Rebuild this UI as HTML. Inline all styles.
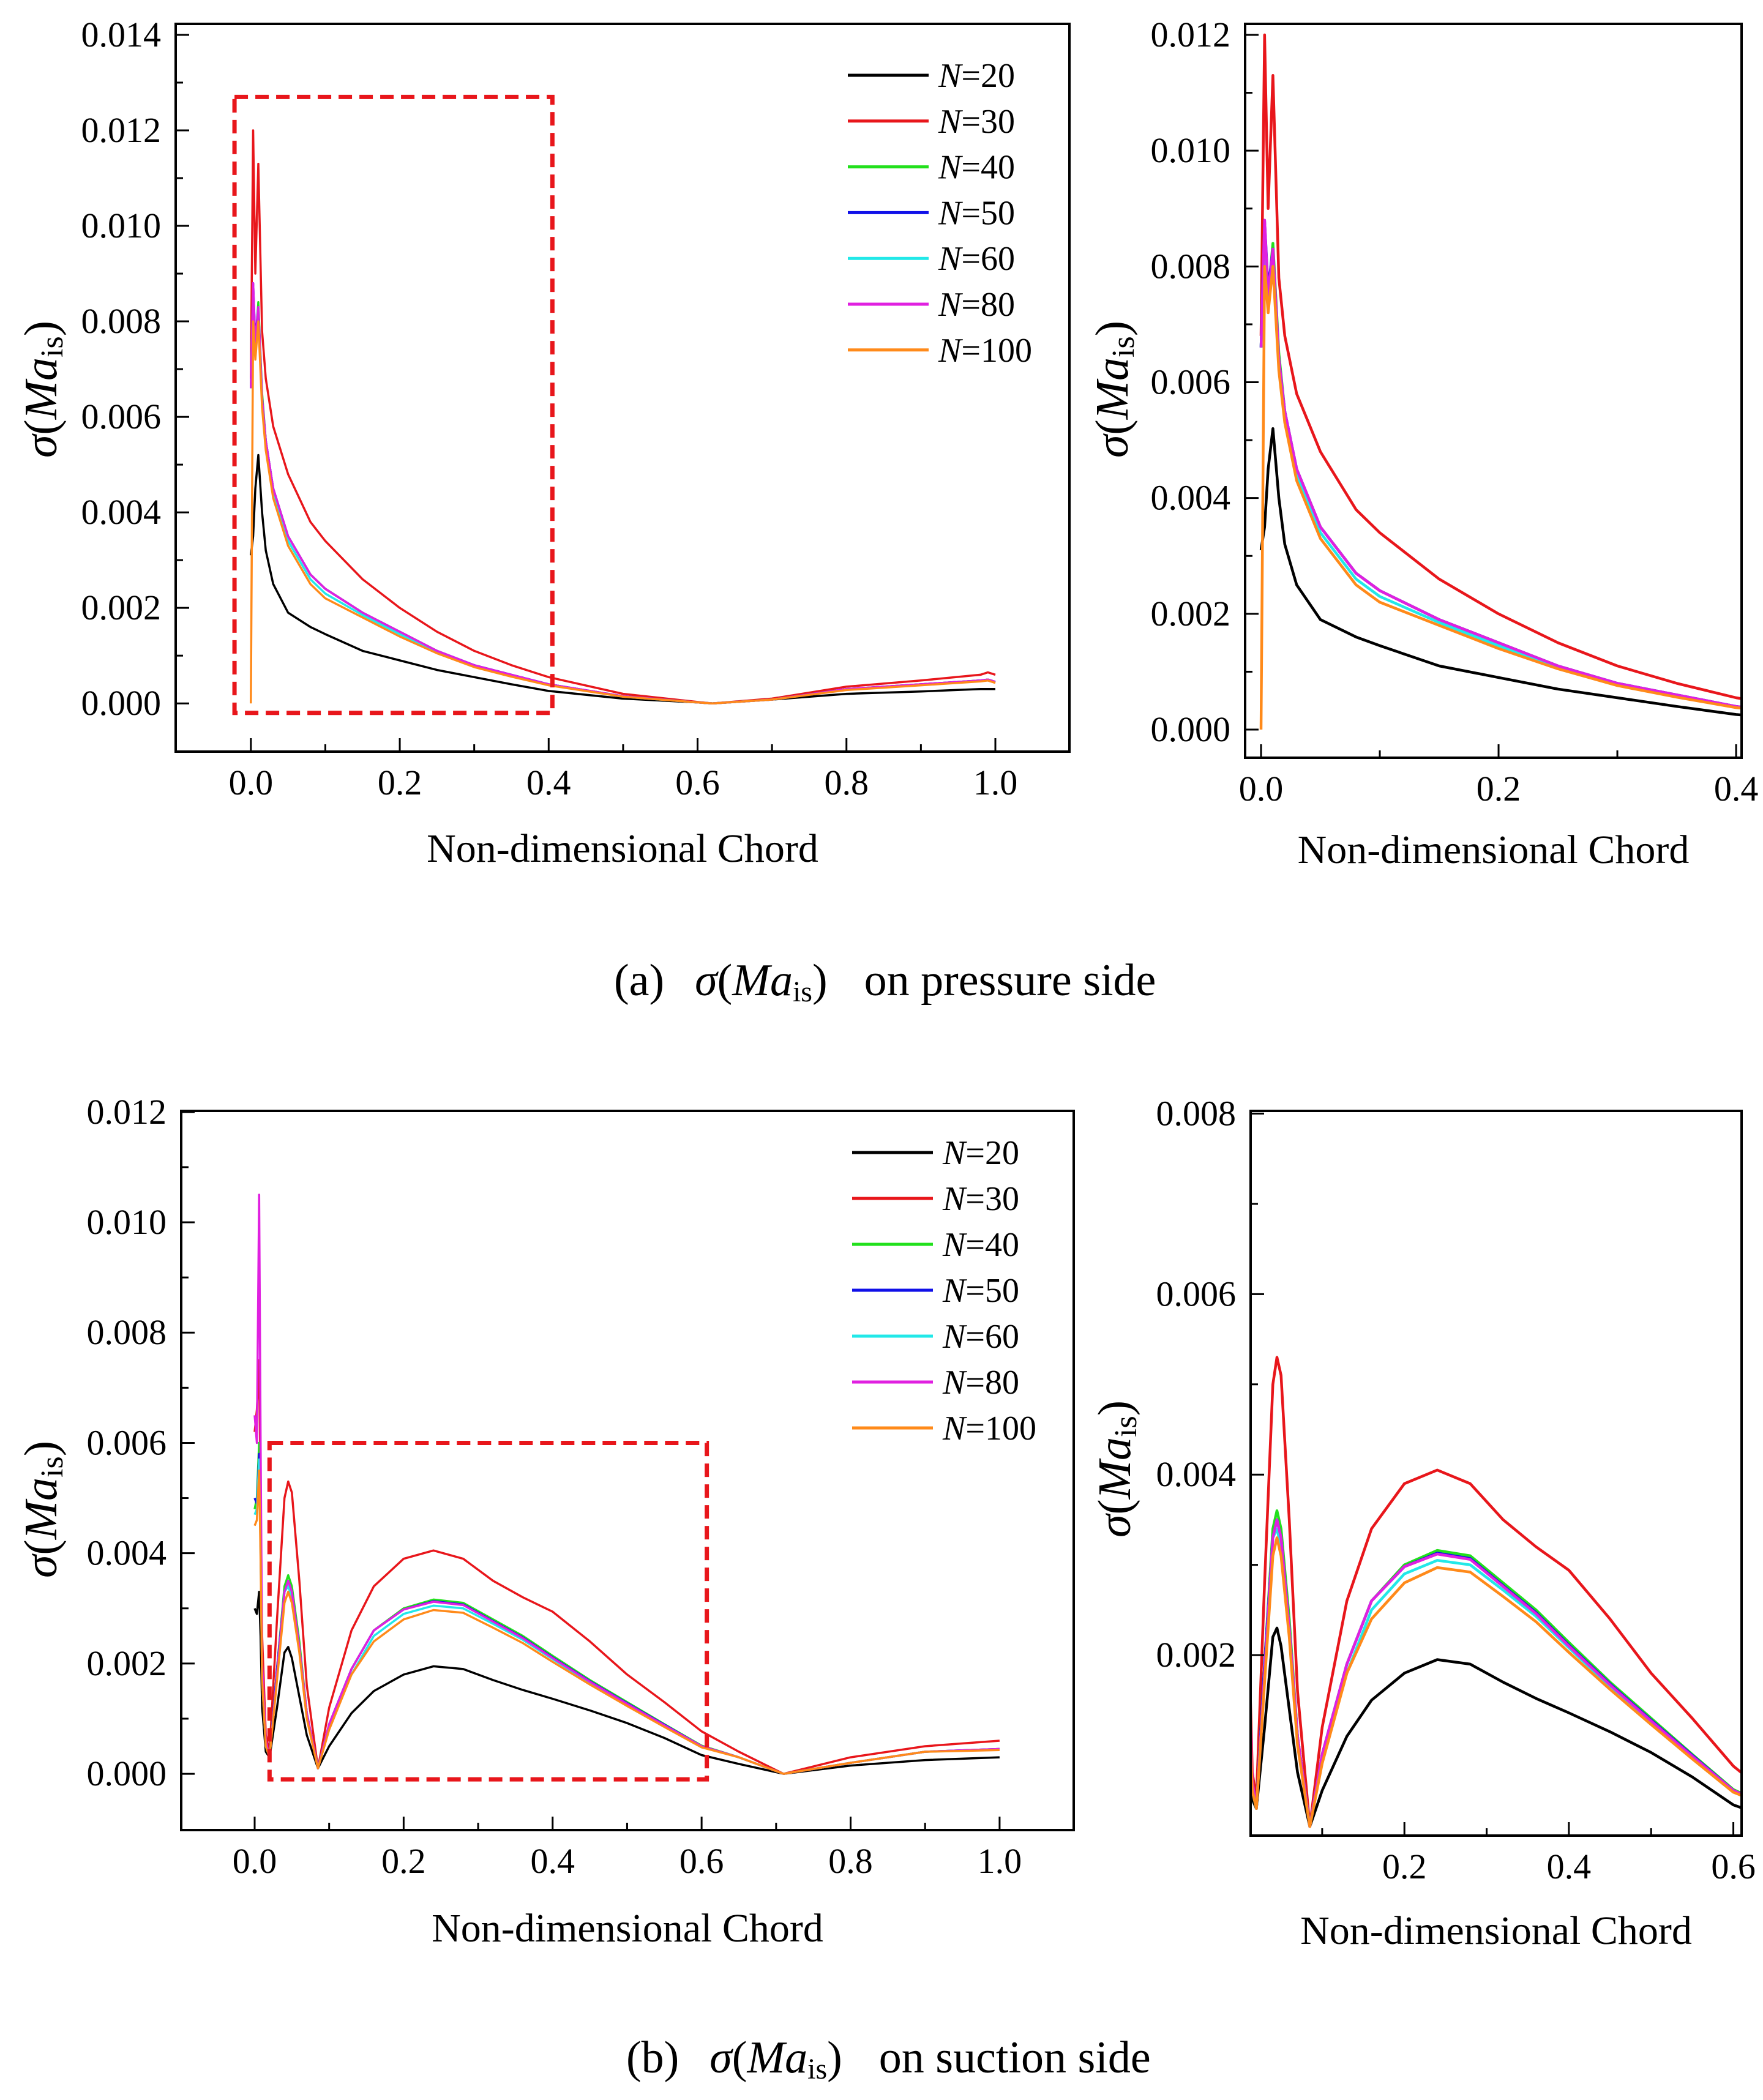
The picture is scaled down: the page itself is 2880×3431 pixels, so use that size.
<!DOCTYPE html>
<html><head><meta charset="utf-8">
<style>
html,body{margin:0;padding:0;background:#fff;}
svg{display:block;}
text{font-family:"Liberation Serif","DejaVu Serif",serif;fill:#000;}
</style></head>
<body>
<svg id="fig" width="2880" height="3431" viewBox="0 0 2880 3431" xmlns="http://www.w3.org/2000/svg">
<rect width="2880" height="3431" fill="#fff"/>
<text x="1003" y="1626" font-size="74">(a)<tspan dx="50" font-style="italic">σ</tspan>(<tspan font-style="italic">Ma</tspan><tspan font-size="48" dy="10">is</tspan><tspan dy="-10">)</tspan><tspan dx="60">on pressure side</tspan></text>
<text x="1023" y="3386" font-size="74">(b)<tspan dx="50" font-style="italic">σ</tspan>(<tspan font-style="italic">Ma</tspan><tspan font-size="48" dy="10">is</tspan><tspan dy="-10">)</tspan><tspan dx="60">on suction side</tspan></text>
</svg>
<script>
const seriesNames = ["N=20","N=30","N=40","N=50","N=60","N=80","N=100"];
const seriesColors = ["#000000","#e8161b","#22e01c","#1010e8","#22e8e8","#e020e0","#ff8a1a"];

// Pressure side
const pX = [0,0.003,0.006,0.01,0.015,0.02,0.03,0.05,0.08,0.1,0.15,0.2,0.25,0.3,0.35,0.4,0.5,0.6,0.62,0.7,0.8,0.9,0.98,0.99,1.0];
const pN20 = [0.0031,0.0035,0.0045,0.0052,0.0040,0.0032,0.0025,0.0019,0.0016,0.00145,0.0011,0.0009,0.0007,0.00055,0.0004,0.00026,0.0001,0.00002,0,0.00008,0.0002,0.00025,0.0003,0.0003,0.0003];
const pN30 = [0.0068,0.0120,0.0090,0.0113,0.0078,0.0068,0.0058,0.0048,0.0038,0.0034,0.0026,0.0020,0.0015,0.0011,0.0008,0.00055,0.0002,0.00003,0,0.0001,0.00035,0.00048,0.0006,0.00065,0.0006];
const pN40 = [0.0066,0.0085,0.0075,0.0084,0.0065,0.0055,0.0045,0.0035,0.0027,0.0024,0.0019,0.0015,0.0011,0.0008,0.0006,0.0004,0.00015,0.00002,0,0.00008,0.0003,0.0004,0.00048,0.0005,0.00045];
const pN50 = [0.0066,0.0088,0.0076,0.0083,0.0064,0.0055,0.0045,0.0035,0.0027,0.0024,0.0019,0.0015,0.0011,0.0008,0.0006,0.0004,0.00015,0.00002,0,0.00008,0.0003,0.0004,0.00048,0.0005,0.00045];
const pN60 = [0.0066,0.0086,0.0074,0.0082,0.0063,0.0054,0.0044,0.0034,0.0026,0.0023,0.00185,0.00145,0.00108,0.00078,0.00058,0.00039,0.00014,0.00002,0,0.00008,0.00029,0.00039,0.00047,0.00049,0.00044];
const pN80 = [0.0066,0.0088,0.0075,0.0083,0.0064,0.0055,0.0045,0.0035,0.0027,0.0024,0.0019,0.0015,0.0011,0.0008,0.0006,0.0004,0.00015,0.00002,0,0.00008,0.0003,0.0004,0.00048,0.0005,0.00045];
const pN100 = [0,0.0080,0.0072,0.0080,0.0062,0.0053,0.0043,0.0033,0.0025,0.0022,0.0018,0.0014,0.00105,0.00076,0.00056,0.00038,0.00014,0.00002,0,0.00008,0.00028,0.00038,0.00046,0.00048,0.00043];
const pSeries = [pN20,pN30,pN40,pN50,pN60,pN80,pN100];

// Suction side
const sX = [0,0.003,0.006,0.008,0.01,0.015,0.02,0.03,0.04,0.045,0.05,0.06,0.07,0.085,0.1,0.13,0.16,0.2,0.24,0.28,0.32,0.36,0.4,0.45,0.5,0.55,0.6,0.65,0.71,0.8,0.9,1.0];
const sN20 = [0.003,0.0029,0.0033,0.0025,0.0012,0.0004,0.0003,0.0012,0.0022,0.0023,0.0021,0.0014,0.0007,0.0001,0.0005,0.0011,0.0015,0.0018,0.00195,0.0019,0.0017,0.00152,0.00136,0.00115,0.00092,0.00065,0.00034,0.00018,0,0.00015,0.00025,0.0003];
const sN30 = [0.0062,0.0066,0.0075,0.0050,0.0025,0.0007,0.0004,0.0028,0.0050,0.0053,0.0051,0.0035,0.0016,0.0001,0.0012,0.0026,0.0034,0.0039,0.00405,0.0039,0.0035,0.0032,0.00294,0.0024,0.0018,0.0013,0.00077,0.0004,0,0.0003,0.0005,0.0006];
const sN40 = [0.0048,0.0050,0.0060,0.0042,0.0018,0.0005,0.0003,0.0019,0.0034,0.0036,0.0034,0.0024,0.0011,0.0001,0.0009,0.0019,0.0026,0.0030,0.00316,0.0031,0.0028,0.0025,0.00214,0.0017,0.0013,0.0009,0.00051,0.0003,0,0.0002,0.0004,0.00045];
const sN50 = [0.0050,0.0049,0.0058,0.0041,0.0018,0.0005,0.0003,0.0019,0.0033,0.0035,0.0033,0.0023,0.0011,0.0001,0.0009,0.0019,0.0026,0.00298,0.00313,0.00307,0.00277,0.00247,0.00211,0.00168,0.00128,0.00089,0.0005,0.0003,0,0.0002,0.0004,0.00045];
const sN60 = [0.0047,0.0048,0.0057,0.0040,0.0017,0.0005,0.0003,0.0018,0.0033,0.0034,0.0032,0.0023,0.0011,0.0001,0.0009,0.0018,0.0025,0.0029,0.00305,0.00300,0.00272,0.00243,0.00208,0.00165,0.00126,0.00087,0.00049,0.0003,0,0.0002,0.0004,0.00044];
const sN80 = [0.0065,0.0060,0.0105,0.0060,0.0020,0.0006,0.0003,0.0018,0.0033,0.0035,0.0033,0.0023,0.0011,0.0001,0.0009,0.0019,0.0026,0.00298,0.00312,0.00306,0.00276,0.00246,0.0021,0.00167,0.00127,0.00088,0.0005,0.0003,0,0.0002,0.0004,0.00045];
const sN100 = [0.0045,0.0046,0.0055,0.0039,0.0017,0.0005,0.0003,0.0017,0.0031,0.0033,0.0031,0.0022,0.0010,0.0001,0.0008,0.0018,0.0024,0.0028,0.00297,0.00292,0.00265,0.00237,0.00203,0.00162,0.00123,0.00085,0.00048,0.0003,0,0.0002,0.0004,0.00043];
const sSeries = [sN20,sN30,sN40,sN50,sN60,sN80,sN100];

const aLeftXTicks = [0,0.2,0.4,0.6,0.8,1.0];
const aLeftYTicks = [0,0.002,0.004,0.006,0.008,0.010,0.012,0.014];
const aRightXTicks = [0,0.2,0.4];
const aRightYTicks = [0,0.002,0.004,0.006,0.008,0.010,0.012];
const bLeftXTicks = [0,0.2,0.4,0.6,0.8,1.0];
const bLeftYTicks = [0,0.002,0.004,0.006,0.008,0.010,0.012];
const bRightXTicks = [0.2,0.4,0.6];
const bRightYTicks = [0.002,0.004,0.006,0.008];

const NS = "http://www.w3.org/2000/svg";
const svg = document.getElementById('fig');
function mk(tag, attrs, parent){
  const e = document.createElementNS(NS, tag);
  for (const k in attrs) e.setAttribute(k, attrs[k]);
  (parent||svg).appendChild(e);
  return e;
}

function panel(p){
  const g = mk('g', {});
  
  
  const sx = v => p.fx0 + (v - p.xd[0]) / (p.xd[1]-p.xd[0]) * (p.fx1 - p.fx0);
  const sy = v => p.fy1 - (v - p.yd[0]) / (p.yd[1]-p.yd[0]) * (p.fy1 - p.fy0);
  const cid = p.name + '-clip';
  const cp = mk('clipPath', {id: cid}, g);
  mk('rect', {x:p.fx0, y:p.fy0, width:p.fx1-p.fx0, height:p.fy1-p.fy0}, cp);
  const plot = mk('g', {'clip-path': 'url(#'+cid+')'}, g);
  p.series.forEach((arr, i) => {
    let d = '';
    arr.forEach((v, j) => { d += (j ? 'L' : 'M') + sx(p.xs[j]).toFixed(1) + ',' + sy(v).toFixed(1); });
    const path = mk('path', {d: d, fill:'none', stroke: seriesColors[i], 'stroke-width': p.lw, 'stroke-linejoin':'round'}, plot);
    
    
  });
  if (p.box) {
    const b = p.box;
    const r = mk('rect', {x: sx(b[0]), y: sy(b[3]), width: sx(b[1]) - sx(b[0]), height: sy(b[2]) - sy(b[3]), fill:'none', stroke:'#e8161b', 'stroke-width':7, 'stroke-dasharray':'22,12'}, g);
    
    
  }
  const fr = mk('rect', {x:p.fx0, y:p.fy0, width:p.fx1-p.fx0, height:p.fy1-p.fy0, fill:'none', stroke:'#000', 'stroke-width':4}, g);
  
  
  p.xMinor.forEach(v => { mk('line', {x1:sx(v), x2:sx(v), y1:p.fy1, y2:p.fy1-12, stroke:'#000','stroke-width':3}, g); });
  p.xTicks.forEach(v => {
    mk('line', {x1:sx(v), x2:sx(v), y1:p.fy1, y2:p.fy1-22, stroke:'#000','stroke-width':3}, g);
    const t = mk('text', {x:sx(v), y:p.fy1+70, 'font-size':58, 'text-anchor':'middle'}, g);
    t.textContent = v.toFixed(1);
    
    
  });
  p.yMinor.forEach(v => { mk('line', {x1:p.fx0, x2:p.fx0+12, y1:sy(v), y2:sy(v), stroke:'#000','stroke-width':3}, g); });
  p.yTicks.forEach(v => {
    mk('line', {x1:p.fx0, x2:p.fx0+22, y1:sy(v), y2:sy(v), stroke:'#000','stroke-width':3}, g);
    const t = mk('text', {x:p.fx0-24, y:sy(v)+19, 'font-size':58, 'text-anchor':'end'}, g);
    t.textContent = v.toFixed(3);
    
    
  });
  const xt = mk('text', {x:(p.fx0+p.fx1)/2, y:p.xTitleY, 'font-size':66, 'text-anchor':'middle'}, g);
  xt.textContent = 'Non-dimensional Chord';
  
  
  const yt = mk('text', {x:0, y:0, 'font-size':76, 'text-anchor':'middle', transform:'translate('+p.yTitleX+','+p.yTitleY+') rotate(-90)'}, g);
  yt.innerHTML = '<tspan font-style="italic">σ</tspan>(<tspan font-style="italic">Ma</tspan><tspan font-size="52" dy="10">is</tspan><tspan dy="-10">)</tspan>';
  
  
  if (p.legend) {
    const L = p.legend;
    seriesNames.forEach((n, i) => {
      const y = L.y0 + i * L.dy;
      const lg = mk('g', {}, g);
      
      
      mk('line', {x1:L.x0, x2:L.x0+132, y1:y, y2:y, stroke:seriesColors[i], 'stroke-width':5}, lg);
      const t = mk('text', {x:L.x0+148, y:y+19, 'font-size':56}, lg);
      t.innerHTML = '<tspan font-style="italic">N</tspan>=' + n.slice(2);
    });
  }
}

panel({name:'pressure-side-full', fx0:287, fx1:1747, fy0:39, fy1:1228, xd:[-0.101,1.0995], yd:[-0.00101,0.01423],
  xs:pX, series:pSeries, lw:3.5, xTicks:aLeftXTicks, xMinor:[0.1,0.3,0.5,0.7,0.9],
  yTicks:aLeftYTicks, yMinor:[0.001,0.003,0.005,0.007,0.009,0.011,0.013],
  box:[-0.022,0.405,-0.0002,0.0127], xTitleY:1408, yTitleX:92, yTitleY:636,
  legend:{x0:1385, y0:123, dy:74.8}});
panel({name:'pressure-side-zoom', fx0:2034, fx1:2845, fy0:39, fy1:1238, xd:[-0.0134,0.4046], yd:[-0.000486,0.01219],
  xs:pX, series:pSeries, lw:4.5, xTicks:aRightXTicks, xMinor:[0.1,0.3],
  yTicks:aRightYTicks, yMinor:[0.001,0.003,0.005,0.007,0.009,0.011],
  xTitleY:1410, yTitleX:1842, yTitleY:636});
panel({name:'suction-side-full', fx0:296, fx1:1754, fy0:1815, fy1:2990, xd:[-0.0986,1.0995], yd:[-0.00102,0.01202],
  xs:sX, series:sSeries, lw:3.5, xTicks:bLeftXTicks, xMinor:[0.1,0.3,0.5,0.7,0.9],
  yTicks:bLeftYTicks, yMinor:[0.001,0.003,0.005,0.007,0.009,0.011],
  box:[0.02,0.607,-0.0001,0.006], xTitleY:3172, yTitleX:92, yTitleY:2466,
  legend:{x0:1392, y0:1883, dy:75}});
panel({name:'suction-side-zoom', fx0:2043, fx1:2845, fy0:1815, fy1:2999, xd:[0.013,0.61], yd:[0,0.00803],
  xs:sX, series:sSeries, lw:4.5, xTicks:bRightXTicks, xMinor:[0.1,0.3,0.5],
  yTicks:bRightYTicks, yMinor:[0.003,0.005,0.007],
  xTitleY:3176, yTitleX:1846, yTitleY:2400});
</script>
</body></html>
